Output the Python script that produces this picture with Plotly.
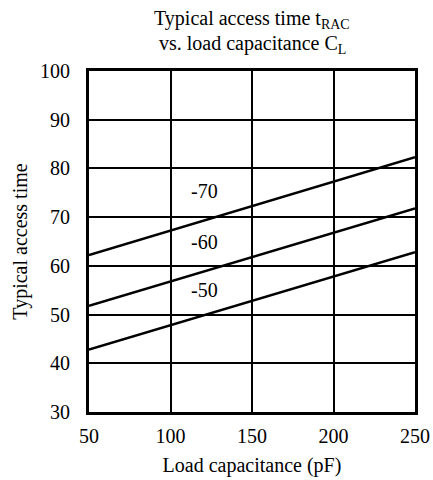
import plotly.graph_objects as go

cap_pf = [50, 250]
series_names = ["-70", "-60", "-50"]
t_70 = [62.2, 82.3]
t_60 = [51.8, 71.8]
t_50 = [42.8, 62.8]
label_x = [121, 121, 121]
label_y = [75.3, 64.8, 55.0]
x_ticks = [50, 100, 150, 200, 250]
y_ticks = [30, 40, 50, 60, 70, 80, 90, 100]
title_lines = ["Typical access time t<sub>RAC</sub>", "vs. load capacitance C<sub>L</sub>"]

FONT = "Liberation Serif"
TF = dict(family=FONT, size=20, color="black")

fig = go.Figure()
for name, vals in zip(series_names, [t_70, t_60, t_50]):
    fig.add_trace(go.Scatter(x=cap_pf, y=vals, mode="lines", name=name,
                             line=dict(color="black", width=2.5), showlegend=False))

for name, lx, ly in zip(series_names, label_x, label_y):
    fig.add_annotation(x=lx, y=ly, text=name, showarrow=False, font=TF)

# title lines (plot area top is 71px, height 341px)
for line, py in zip(title_lines, [20, 44]):
    fig.add_annotation(text=line, xref="paper", yref="paper", x=0.5,
                       y=1 + (71 - py) / 341, xanchor="center", yanchor="middle",
                       showarrow=False, font=TF)

fig.update_layout(
    width=433, height=480,
    margin=dict(l=89, r=18, t=71, b=68),
    paper_bgcolor="white", plot_bgcolor="white",
    font=TF,
)
fig.update_xaxes(range=[50, 250], tickvals=x_ticks, showgrid=True, gridcolor="black", gridwidth=2,
                 showline=True, linecolor="black", linewidth=3, mirror=True, zeroline=False,
                 ticks="outside", ticklen=4, tickcolor="rgba(0,0,0,0)", tickfont=TF,
                 automargin=False,
                 title=dict(text="Load capacitance (pF)", font=TF, standoff=12))
fig.update_yaxes(range=[30, 100], tickvals=y_ticks, showgrid=True, gridcolor="black", gridwidth=2,
                 showline=True, linecolor="black", linewidth=3, mirror=True, zeroline=False,
                 ticks="outside", ticklen=12, tickcolor="rgba(0,0,0,0)", tickfont=TF,
                 automargin=False,
                 title=dict(text="Typical access time", font=TF, standoff=8))

fig.write_html("out.html", post_script="document.body.style.margin='0';",
               config={"displayModeBar": False})
